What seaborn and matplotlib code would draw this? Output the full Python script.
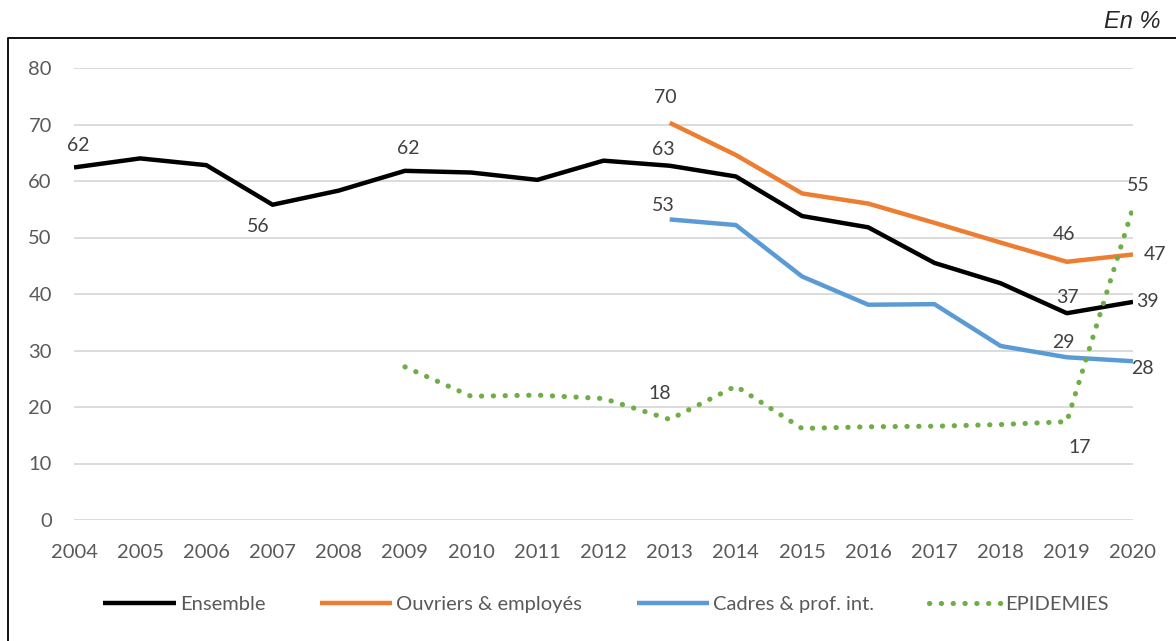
import matplotlib
matplotlib.use("Agg")
import matplotlib.pyplot as plt
from matplotlib.lines import Line2D
import numpy as np
import pandas as pd
import seaborn as sns

# Donnees (en %)
years = list(range(2004, 2021))
ensemble = [62.4, 64.0, 62.8, 55.8, 58.3, 61.8, 61.5, 60.2, 63.6,
            62.7, 60.8, 53.8, 51.8, 45.5, 41.9, 36.6, 38.6]
ouvriers = [np.nan] * 9 + [70.3, 64.6, 57.8, 56.0, 52.6, 49.1, 45.7, 47.0]
cadres = [np.nan] * 9 + [53.2, 52.2, 43.1, 38.1, 38.2, 30.8, 28.8, 28.1]
epidemies = [np.nan] * 5 + [27.1, 21.9, 22.1, 21.5, 17.8, 23.7, 16.2,
                            16.5, 16.6, 16.9, 17.4, 55.3]

series_names = ["Ensemble", "Ouvriers & employés", "Cadres & prof. int.", "EPIDEMIES"]
series_values = [ensemble, ouvriers, cadres, epidemies]
colors = ["#000000", "#ED7D31", "#5B9BD5", "#70AD47"]

# etiquettes de valeurs : (serie, annee, decalage x px, decalage y px, alignement)
value_labels = [
    ("Ensemble", 2004, 4, 22, "center"),
    ("Ensemble", 2007, -14, -22, "center"),
    ("Ensemble", 2009, 3, 22, "center"),
    ("Ensemble", 2013, -6, 16, "center"),
    ("Ensemble", 2019, 1, 16, "center"),
    ("Ensemble", 2020, 3, 0, "left"),
    ("Ouvriers & employés", 2013, -4, 25, "center"),
    ("Ouvriers & employés", 2019, -3, 27, "center"),
    ("Ouvriers & employés", 2020, 11, 0, "left"),
    ("Cadres & prof. int.", 2013, -6, 14, "center"),
    ("Cadres & prof. int.", 2019, -3, 15, "center"),
    ("Cadres & prof. int.", 2020, -2, -7, "left"),
    ("EPIDEMIES", 2013, -10, 26, "center"),
    ("EPIDEMIES", 2019, 13, -26, "center"),
    ("EPIDEMIES", 2020, 5, 22, "center"),
]

df = pd.DataFrame({"annee": years})
for name, vals in zip(series_names, series_values):
    df[name] = vals

sns.set_style("white")
plt.rcParams["font.family"] = ["Lato", "DejaVu Sans"]

W, H, DPI = 1176, 641, 100
fig = plt.figure(figsize=(W / DPI, H / DPI), dpi=DPI)
ax = fig.add_axes([74 / W, 1 - 520 / H, (1133 - 74) / W, (520 - 68) / H])

text_col = "#595959"
for name, col in zip(series_names, colors):
    if name == "EPIDEMIES":
        sns.lineplot(data=df, x="annee", y=name, ax=ax, color=col, lw=3.7,
                     linestyle=(0, (0.05, 2.25)), dash_capstyle="round",
                     label=name)
    else:
        sns.lineplot(data=df, x="annee", y=name, ax=ax, color=col, lw=3.2,
                     label=name, solid_capstyle="butt")

px = 0.72  # pixels -> points
for name, yr, dx, dy, ha in value_labels:
    val = df.loc[df["annee"] == yr, name].iloc[0]
    ax.annotate(f"{round(val)}", (yr, val), xytext=(dx * px, dy * px),
                textcoords="offset points", ha=ha, va="center",
                fontsize=14, color="#404040", annotation_clip=False)

ax.set_xlim(2004, 2020)
ax.set_ylim(0, 80)
ax.set_xticks(years)
ax.set_yticks(range(0, 81, 10))
ax.set_xlabel("")
ax.set_ylabel("")
ax.grid(axis="y", color="#D9D9D9", lw=1.3)
ax.grid(axis="x", visible=False)
ax.set_axisbelow(True)
sns.despine(ax=ax, left=True, bottom=True)
ax.tick_params(axis="both", length=0, labelsize=14.5, labelcolor=text_col)
ax.tick_params(axis="x", pad=17)
ax.tick_params(axis="y", pad=16)

ax.legend(loc="center", bbox_to_anchor=(606 / W, 1 - 604 / H),
          bbox_transform=fig.transFigure, ncol=4, frameon=False,
          fontsize=14.5, labelcolor=text_col, handlelength=3.6,
          handletextpad=0.2, columnspacing=2.7)

# cadre du graphique et unite
fig.add_artist(Line2D([8 / W, 8 / W, 1.0], [0, 1 - 38 / H, 1 - 38 / H],
                      transform=fig.transFigure, color="black", lw=1.3))
fig.text(1160 / W, 1 - 22 / H, "En %", ha="right", va="center",
         fontsize=17, style="italic", family="Liberation Sans")

fig.savefig("out.png", dpi=DPI)
